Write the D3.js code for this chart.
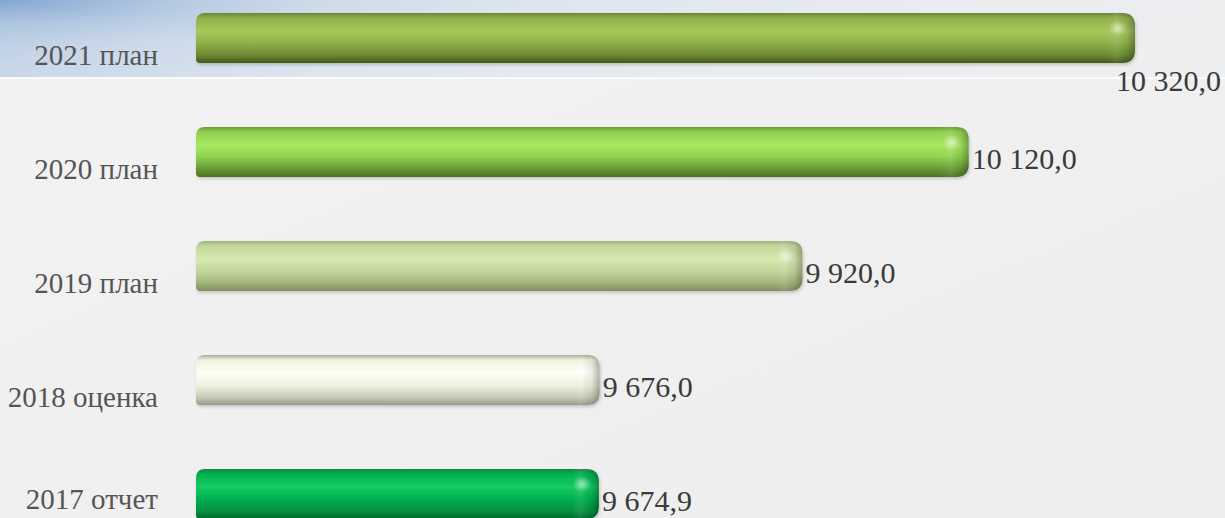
<!DOCTYPE html>
<html>
<head>
<meta charset="utf-8">
<script src="https://cdn.jsdelivr.net/npm/d3@7/dist/d3.min.js"></script>
<style>
  html, body { margin: 0; padding: 0; background: #f1f1f1; overflow: hidden; }
  svg { display: block; }
</style>
</head>
<body>
<div id="chart"></div>
<script>
// categories, top to bottom
var categories = ["2021 план", "2020 план", "2019 план", "2018 оценка", "2017 отчет"];
var values = [10320.0, 10120.0, 9920.0, 9676.0, 9674.9];
var valueLabels = ["10 320,0", "10 120,0", "9 920,0", "9 676,0", "9 674,9"];

// bar colour ramps: top edge, highlight, body, lower, bottom edge
var palettes = [
  ["#6a8535", "#a6c95d", "#8fb04a", "#6b8a32", "#43581a"],
  ["#6d9a36", "#a8e862", "#8fd050", "#679a34", "#4a7420"],
  ["#9fb07e", "#d6e9b0", "#c3d79c", "#a0b47a", "#7f8f60"],
  ["#a9ad98", "#fdfff5", "#eef2de", "#c9ccb7", "#95998a"],
  ["#17843f", "#14cc62", "#00b050", "#07903f", "#056a2c"]
];

var W = 1225, H = 518;

var svg = d3.select("#chart").append("svg").attr("width", W).attr("height", H);
var defs = svg.append("defs");

// background
var bg = defs.append("linearGradient").attr("id", "bg").attr("x1", 0).attr("y1", 0).attr("x2", 1).attr("y2", 1);
bg.append("stop").attr("offset", 0).attr("stop-color", "#f3f3f3");
bg.append("stop").attr("offset", 1).attr("stop-color", "#ededed");

var band = defs.append("linearGradient").attr("id", "band").attr("x1", 0).attr("y1", 0).attr("x2", 1).attr("y2", 0.2);
band.append("stop").attr("offset", 0).attr("stop-color", "#b0c6df");
band.append("stop").attr("offset", 0.17).attr("stop-color", "#c7d6e8");
band.append("stop").attr("offset", 0.45).attr("stop-color", "#dfe6ef");
band.append("stop").attr("offset", 0.75).attr("stop-color", "#e9ecf0");
band.append("stop").attr("offset", 1).attr("stop-color", "#edeef0");

var corner = defs.append("radialGradient").attr("id", "corner").attr("cx", 0).attr("cy", 0).attr("r", 1)
  .attr("gradientTransform", "scale(1,0.6)");
corner.append("stop").attr("offset", 0).attr("stop-color", "#7aa0cf").attr("stop-opacity", 0.85);
corner.append("stop").attr("offset", 0.5).attr("stop-color", "#96b4d9").attr("stop-opacity", 0.35);
corner.append("stop").attr("offset", 1).attr("stop-color", "#aac2df").attr("stop-opacity", 0);

svg.append("rect").attr("width", W).attr("height", H).attr("fill", "url(#bg)");
svg.append("rect").attr("width", W).attr("height", 77).attr("fill", "url(#band)");
svg.append("rect").attr("width", 340).attr("height", 77).attr("fill", "url(#corner)");
svg.append("rect").attr("y", 77).attr("width", W).attr("height", 2).attr("fill", "#fbfbfb");

// scales
var x = d3.scaleLinear().domain([9190, 10320]).range([196, 1135]);
var y = d3.scaleBand().domain(categories).range([13, 519]).paddingInner(0.5614).paddingOuter(0).align(0);
var bh = y.bandwidth();

// gradients per bar
palettes.forEach(function(p, i) {
  var g = defs.append("linearGradient").attr("id", "bar" + i).attr("x1", 0).attr("y1", 0).attr("x2", 0).attr("y2", 1);
  [[0, p[0]], [0.1, p[2]], [0.36, p[1]], [0.6, p[2]], [0.84, p[3]], [1, p[4]]].forEach(function(s) {
    g.append("stop").attr("offset", s[0]).attr("stop-color", s[1]);
  });
});

var cap = defs.append("linearGradient").attr("id", "cap").attr("x1", 0).attr("y1", 0).attr("x2", 1).attr("y2", 0);
cap.append("stop").attr("offset", 0).attr("stop-color", "#fff").attr("stop-opacity", 0);
cap.append("stop").attr("offset", 0.35).attr("stop-color", "#fff").attr("stop-opacity", 0.08);
cap.append("stop").attr("offset", 0.7).attr("stop-color", "#000").attr("stop-opacity", 0.06);
cap.append("stop").attr("offset", 1).attr("stop-color", "#000").attr("stop-opacity", 0.3);

var glow = defs.append("radialGradient").attr("id", "glow");
glow.append("stop").attr("offset", 0).attr("stop-color", "#fff").attr("stop-opacity", 0.55);
glow.append("stop").attr("offset", 1).attr("stop-color", "#fff").attr("stop-opacity", 0);

var shadow = defs.append("filter").attr("id", "shadow").attr("x", "-5%").attr("y", "-20%").attr("width", "110%").attr("height", "150%");
shadow.append("feDropShadow").attr("dx", 1).attr("dy", 2).attr("stdDeviation", 1.5).attr("flood-color", "#000").attr("flood-opacity", 0.18);

function barPath(x0, x1, y0, h) {
  var rl = 9, rr = 13;
  return "M" + (x0 + rl) + "," + y0 +
    "H" + (x1 - rr) + "Q" + x1 + "," + y0 + " " + x1 + "," + (y0 + rr) +
    "V" + (y0 + h - rr) + "Q" + x1 + "," + (y0 + h) + " " + (x1 - rr) + "," + (y0 + h) +
    "H" + (x0 + 4) + "Q" + x0 + "," + (y0 + h) + " " + x0 + "," + (y0 + h - 4) +
    "V" + (y0 + rl) + "Q" + x0 + "," + y0 + " " + (x0 + rl) + "," + y0 + "Z";
}

var bars = svg.selectAll("g.bar").data(categories).enter().append("g").attr("class", "bar");

bars.each(function(d, i) {
  var g = d3.select(this);
  var x0 = x.range()[0], x1 = x(values[i]), y0 = y(d);
  var path = barPath(x0, x1, y0, bh);
  defs.append("clipPath").attr("id", "clip" + i).append("path").attr("d", path);
  g.append("path").attr("d", path).attr("fill", "url(#bar" + i + ")").attr("filter", "url(#shadow)");
  g.append("rect").attr("clip-path", "url(#clip" + i + ")")
    .attr("x", x1 - 28).attr("y", y0).attr("width", 28).attr("height", bh)
    .attr("fill", "url(#cap)");
  g.append("ellipse").attr("clip-path", "url(#clip" + i + ")")
    .attr("cx", x1 - 17).attr("cy", y0 + 15).attr("rx", 9).attr("ry", 8)
    .attr("fill", "url(#glow)");
});

// category labels
svg.selectAll("text.cat").data(categories).enter().append("text")
  .attr("class", "cat")
  .attr("x", 158)
  .attr("y", function(d) { return Math.min(y(d) + bh / 2 + 27, H - 9); })
  .attr("text-anchor", "end")
  .style("font-family", "'Times New Roman', 'Liberation Serif', serif")
  .style("font-size", "29px")
  .attr("fill", "#555555")
  .text(function(d) { return d; });

// value labels
svg.selectAll("text.val").data(valueLabels).enter().append("text")
  .attr("class", "val")
  .attr("x", function(d, i) { return x(values[i]) + 3; })
  .attr("y", function(d, i) { return y(categories[i]) + bh / 2 + 17; })
  .style("font-family", "'Times New Roman', 'Liberation Serif', serif")
  .style("font-size", "30px")
  .attr("fill", "#3a3a3a")
  .text(function(d) { return d; })
  .each(function(d, i) {
    var t = d3.select(this);
    var w = this.getComputedTextLength();
    if (x(values[i]) + 3 + w > W) {
      t.attr("x", W - 4).attr("text-anchor", "end")
        .attr("y", y(categories[i]) + bh + 28);
    }
  });
</script>
</body>
</html>
